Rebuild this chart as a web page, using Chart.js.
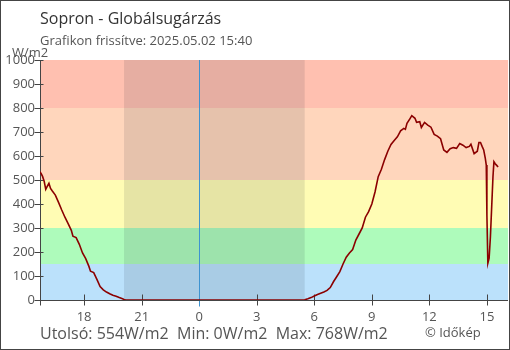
<!DOCTYPE html>
<html lang="hu">
<head>
<meta charset="UTF-8" />
<title>Sopron - Globálsugárzás</title>
<script src="https://cdn.jsdelivr.net/npm/chart.js"></script>
<style>
  body { margin: 0; background: #fff; font-family: "Open Sans", sans-serif; }
  .wrap { position: relative; width: 510px; height: 350px; }
  .wrap canvas { position: absolute; left: 0; top: 0; }
  .frame { position: absolute; left: 0; top: 0; width: 510px; height: 350px; box-sizing: border-box; border: 1px solid #444; pointer-events: none; }
  .txt { position: absolute; white-space: pre; line-height: 1; }
  #title { left: 40px; top: 10px; font-size: 16px; color: #333; }
  #subtitle { left: 40px; top: 34px; font-size: 13px; color: #555; }
  #unit { left: 12px; top: 46px; font-size: 13px; color: #555; }
  #stats { left: 40px; top: 325px; font-size: 16px; color: #555; }
  #credit { left: 425px; top: 326px; font-size: 13px; color: #555; }
</style>
</head>
<body>
<div class="wrap">
  <canvas id="chart" width="510" height="350"></canvas>
  <div class="txt" id="title">Sopron - Globálsugárzás</div>
  <div class="txt" id="subtitle">Grafikon frissítve: 2025.05.02 15:40</div>
  <div class="txt" id="unit">W/m2</div>
  <div class="txt" id="stats"></div>
  <div class="txt" id="credit">© Időkép</div>
  <div class="frame"></div>
</div>
<script>
// measurement times (local), running from yesterday afternoon to today
const times = [
  '15:40', '15:45', '15:50', '15:55', '16:00', '16:05', '16:10', '16:15', '16:20', '16:30',
  '16:40', '16:50', '17:00', '17:10', '17:20', '17:25', '17:35', '17:45', '17:55', '18:05',
  '18:15', '18:20', '18:30', '18:40', '18:50', '19:00', '19:10', '19:20', '19:30', '19:40',
  '19:50', '20:00', '20:05', '20:10',
  '05:25', '05:30', '05:40', '05:50', '06:00', '06:10', '06:20', '06:30', '06:40', '06:50',
  '07:00', '07:10', '07:20', '07:30', '07:40', '07:50', '08:00', '08:10', '08:20', '08:30',
  '08:40', '08:50', '09:00', '09:10', '09:20', '09:30', '09:40', '09:50', '10:00', '10:10',
  '10:20', '10:30', '10:40', '10:45', '10:50', '11:00', '11:05', '11:15', '11:20', '11:30',
  '11:35', '11:45', '11:55', '12:05', '12:15', '12:25', '12:35', '12:45', '12:55', '13:05',
  '13:15', '13:25', '13:35', '13:45', '13:55', '14:05', '14:10', '14:20', '14:30', '14:35',
  '14:40', '14:45', '14:50', '14:55', '14:58', '15:00', '15:03', '15:07', '15:11', '15:15',
  '15:19', '15:22', '15:26', '15:30', '15:35'
];
// global radiation, W/m2
const radiation = [
  535, 528, 515, 495, 461, 474, 486, 465, 455, 437,
  407, 375, 345, 318, 290, 266, 260, 232, 196, 172,
  140, 120, 114, 86, 56, 42, 33, 26, 20, 16,
  10, 5, 2, 0,
  0, 1, 5, 10, 17, 23, 28, 33, 40, 52,
  76, 97, 118, 150, 178, 196, 210, 250, 275, 300,
  345, 368, 400, 450, 514, 545, 585, 620, 648, 665,
  680, 705, 715, 711, 736, 757, 768, 757, 740, 743,
  719, 740, 729, 720, 690, 683, 672, 625, 615, 630,
  635, 632, 652, 645, 635, 640, 649, 610, 620, 656,
  656, 640, 625, 590, 562, 354, 153, 174, 264, 389,
  514, 576, 568, 562, 554
];
// hour-of-day ticks, as hours relative to today's midnight
const tickHours = [-6, -3, 0, 3, 6, 9, 12, 15];
const yTicks = [0, 100, 200, 300, 400, 500, 600, 700, 800, 900, 1000];
// radiation bands and their fills
const bandLimits = [0, 150, 300, 500, 800, 1000];
const bandColors = ['#bbe1fb', '#aefbbb', '#fffcb4', '#ffd6bc', '#ffc0b0'];
const sunset = '20:05';
const sunrise = '05:30';

function toHour(t) {
  const [h, m] = t.split(':').map(Number);
  return h + m / 60;
}

// turn clock times into hours from today's midnight (yesterday is negative)
const hours = [];
let dayOffset = -24, prev = -1;
times.forEach(t => {
  const h = toHour(t);
  if (h < prev) dayOffset += 24;
  prev = h;
  hours.push(h + dayOffset);
});
const points = hours.map((h, i) => ({ x: h, y: radiation[i] }));

const last = radiation[radiation.length - 1];
document.getElementById('stats').textContent =
  `Utolsó: ${last}W/m2  Min: ${Math.min(...radiation)}W/m2  Max: ${Math.max(...radiation)}W/m2`;

const backdrop = {
  id: 'backdrop',
  beforeDatasetsDraw(chart) {
    const { ctx, chartArea: a, scales: { x, y } } = chart;
    ctx.save();
    bandColors.forEach((c, i) => {
      const top = y.getPixelForValue(bandLimits[i + 1]);
      const bot = y.getPixelForValue(bandLimits[i]);
      ctx.fillStyle = c;
      ctx.fillRect(a.left, top, a.right - a.left, bot - top);
    });
    // night shading
    const n0 = x.getPixelForValue(toHour(sunset) - 24);
    const n1 = x.getPixelForValue(toHour(sunrise));
    ctx.fillStyle = 'rgba(10,20,40,0.1)';
    ctx.fillRect(n0, a.top, n1 - n0, a.bottom - a.top);

    ctx.lineWidth = 1;
    const lx = Math.round(a.left) + 0.5;
    const by = Math.round(a.bottom) + 0.5;
    // midnight marker
    const mx = Math.round(x.getPixelForValue(0)) + 0.5;
    ctx.strokeStyle = '#3d93d1';
    ctx.beginPath();
    ctx.moveTo(mx, a.top);
    ctx.lineTo(mx, by + 6);
    ctx.stroke();

    ctx.strokeStyle = '#444';
    ctx.beginPath();
    ctx.moveTo(lx, a.top);
    ctx.lineTo(lx, by + 5);
    ctx.moveTo(a.left, by);
    ctx.lineTo(a.right, by);
    y.ticks.forEach(t => {
      const py = Math.round(y.getPixelForValue(t.value)) + 0.5;
      ctx.moveTo(lx - 6, py);
      ctx.lineTo(lx + 3, py);
    });
    x.ticks.forEach(t => {
      if (t.value === 0) return;
      const px = Math.round(x.getPixelForValue(t.value)) + 0.5;
      ctx.moveTo(px, by - 6);
      ctx.lineTo(px, by + 5);
    });
    ctx.stroke();
    ctx.restore();
  }
};

new Chart(document.getElementById('chart'), {
  type: 'line',
  data: {
    datasets: [{
      data: points,
      borderColor: '#8b0000',
      borderWidth: 1.6,
      pointRadius: 0,
      tension: 0,
      fill: false
    }]
  },
  options: {
    responsive: false,
    animation: false,
    layout: { padding: { top: 60, right: 2, left: 0, bottom: 0 } },
    plugins: { legend: { display: false }, tooltip: { enabled: false } },
    scales: {
      x: {
        type: 'linear',
        min: -8.3,
        max: 16.1,
        afterBuildTicks: s => { s.ticks = tickHours.map(v => ({ value: v })); },
        afterFit: s => { s.height = 50; },
        grid: { display: false, drawTicks: false },
        border: { display: false },
        ticks: {
          padding: 9,
          color: '#555',
          font: { family: 'Open Sans', size: 13 },
          maxRotation: 0,
          callback: v => String(((v % 24) + 24) % 24)
        }
      },
      y: {
        min: 0,
        max: 1000,
        afterBuildTicks: s => { s.ticks = yTicks.map(v => ({ value: v })); },
        afterFit: s => { s.width = 40; },
        grid: { display: false, drawTicks: false },
        border: { display: false },
        ticks: {
          padding: 5,
          color: '#555',
          font: { family: 'Open Sans', size: 13 },
          callback: v => String(v)
        }
      }
    }
  },
  plugins: [backdrop]
});
</script>
</body>
</html>
